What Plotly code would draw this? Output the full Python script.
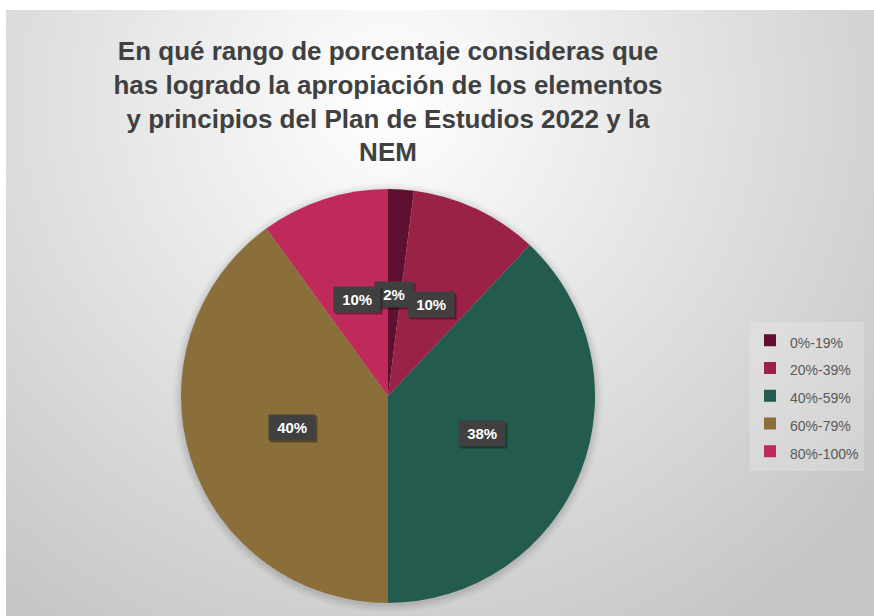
import math
import urllib.parse
import plotly.graph_objects as go

# ---- data ----
labels = ["0%-19%", "20%-39%", "40%-59%", "60%-79%", "80%-100%"]
values = [2, 10, 38, 40, 10]
colors = ["#5F0F30", "#9B2247", "#235B4E", "#8A6F3A", "#BF2A5A"]
title_lines = [
    "En qué rango de porcentaje consideras que",
    "has logrado la apropiación de los elementos",
    "y principios del Plan de Estudios 2022 y la",
    "NEM",
]

W, H = 874, 616
CX, CY, R = 388, 396, 207  # pie centre / radius in px

dom_x = [(CX - R) / W, (CX + R) / W]
dom_y = [(H - CY - R) / H, (H - CY + R) / H]

fig = go.Figure()
fig.add_trace(go.Pie(
    labels=[f'<span style="font-size:14px">{l}</span>' for l in labels],
    values=values,
    marker=dict(colors=colors, line=dict(width=0)),
    sort=False,
    direction="clockwise",
    rotation=0,
    textinfo="none",
    domain=dict(x=dom_x, y=dom_y),
    hoverinfo="label+percent",
))

# data labels as boxed annotations positioned from the data
total = sum(values)
cum = 0
annotations = []
for v in values:
    mid = (cum + v / 2) / total * 360
    cum += v
    d = 0.49 * R
    px = CX + d * math.sin(math.radians(mid))
    py = CY - d * math.cos(math.radians(mid))
    pct = f"{round(v / total * 100)}%"
    txt = f"\u00a0{pct}\u00a0"
    # shadow box: blank text of about the same width
    em = sum(0.889 if c == "%" else 0.556 for c in pct) + 2 * 0.278
    blank = "\u00a0" * round(em / 0.278)
    common = dict(x=px / W, y=1 - py / H, xref="paper", yref="paper",
                  showarrow=False, borderpad=4, xanchor="center", yanchor="middle")
    annotations.append(dict(text=f"<b>{blank}</b>", font=dict(size=15, color="#FFFFFF",
                                                               family="Arial, Liberation Sans"),
                            bgcolor="rgba(0,0,0,0.35)", xshift=2, yshift=-2, **common))
    annotations.append(dict(text=f"<b>{txt}</b>", font=dict(size=15, color="#FFFFFF",
                                                             family="Arial, Liberation Sans"),
                            bgcolor="#404040", **common))

# background gradient (chart area)
svg = ("<svg xmlns='http://www.w3.org/2000/svg' width='868' height='606' viewBox='0 0 868 606' "
       "preserveAspectRatio='none'><defs><radialGradient id='g' gradientUnits='userSpaceOnUse' "
       "cx='384' cy='90' r='620'><stop offset='0' stop-color='#ffffff'/>"
       "<stop offset='1' stop-color='#c6c6c6'/></radialGradient></defs>"
       "<rect width='868' height='606' fill='url(#g)'/></svg>")
src = "data:image/svg+xml;charset=utf-8," + urllib.parse.quote(svg)

# soft shadow around pie
shapes = []
for i, a in enumerate([0.035, 0.03, 0.025, 0.02, 0.015, 0.01]):
    rr = R + 1 + i * 1.5
    shapes.append(dict(type="circle", xref="paper", yref="paper",
                       x0=(CX - rr) / W, x1=(CX + rr) / W,
                       y0=1 - (CY + 2 + rr) / H, y1=1 - (CY + 2 - rr) / H,
                       fillcolor=f"rgba(0,0,0,{a})", line=dict(width=0), layer="below"))

fig.update_layout(
    width=W, height=H, autosize=False,
    margin=dict(l=0, r=0, t=0, b=0),
    paper_bgcolor="#FFFFFF",
    plot_bgcolor="rgba(0,0,0,0)",
    images=[dict(source=src, xref="paper", yref="paper", x=6 / W, y=1 - 10 / H,
                 sizex=(W - 6) / W, sizey=(H - 10) / H, xanchor="left", yanchor="top",
                 sizing="stretch", layer="below")],
    shapes=shapes,
    annotations=annotations,
    title=dict(text="<br>".join(title_lines), x=CX / W, xanchor="center",
               y=1 - 60 / H, yanchor="top", yref="container",
               font=dict(size=26, color="#404040", family="Arial, Liberation Sans", weight="bold")),
    legend=dict(x=750 / W, xanchor="left", y=(H - CY) / H, yanchor="middle",
                font=dict(size=19, color="#595959", family="Arial, Liberation Sans"),
                bgcolor="rgba(255,255,255,0.2)", traceorder="normal"),
    showlegend=True,
)

fig.write_html("out.html", config={"displayModeBar": False},
               post_script="document.body.style.margin='0';document.body.style.padding='0';")
